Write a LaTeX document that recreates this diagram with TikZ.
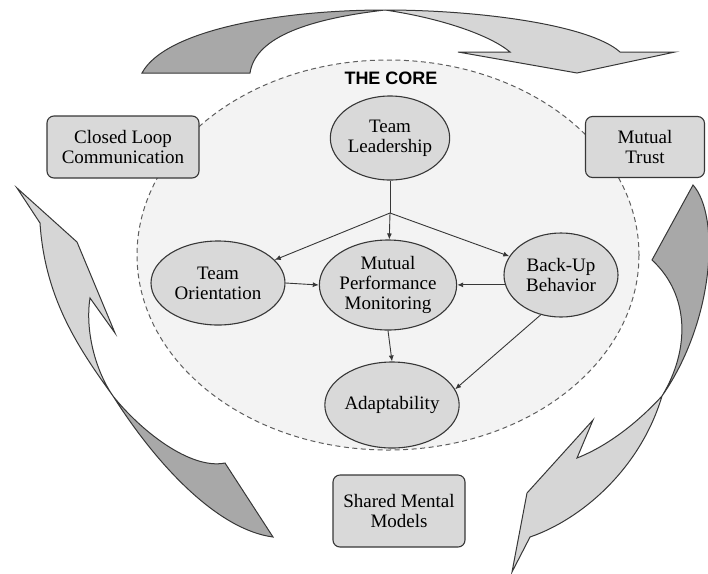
\documentclass[tikz,border=0pt]{standalone}
\usepackage{fontspec}
\setmainfont{Liberation Serif}
\newfontfamily\labelfont{Liberation Serif}
\newfontfamily\headfont{Liberation Sans}
\usetikzlibrary{shapes.geometric,arrows.meta,positioning}
\definecolor{CoreFill}{RGB}{243,243,243}
\definecolor{NodeFill}{RGB}{217,217,217}
\definecolor{RibbonDark}{RGB}{168,168,168}
\definecolor{RibbonLight}{RGB}{214,214,214}
\definecolor{EdgeGray}{RGB}{55,55,55}

\begin{document}
\begin{tikzpicture}[x=1pt,y=-1pt,
    bubble/.style={ellipse,draw=EdgeGray,fill=NodeFill,line width=1.1pt,inner sep=0pt,
      align=center,font=\labelfont\fontsize{19}{20}\selectfont},
    skillbox/.style={rectangle,rounded corners=7pt,draw=EdgeGray,fill=NodeFill,line width=1.1pt,
      inner sep=0pt,align=center,font=\labelfont\fontsize{19}{20}\selectfont},
    link/.style={-{Latex[length=6pt,width=5pt]},line width=0.9pt,draw=EdgeGray},
    ribbon/.style={draw=EdgeGray,line width=1pt,line join=miter}]
    \useasboundingbox (0,0) rectangle (708,573);

    % The core
    \draw[dashed,dash pattern=on 5pt off 3.5pt,draw=EdgeGray!80,fill=CoreFill,line width=1pt]
      (388,255) ellipse [x radius=251,y radius=195];
    \node[font=\headfont\bfseries\fontsize{18}{18}\selectfont] (core) at (391,78) {THE CORE};

    % Big arrows round the core
    \fill[RibbonDark,ribbon] (142,73) .. controls (165,30) and (280,10) .. (385,10)
      .. controls (300,20) and (255,40) .. (250,73) -- cycle;
    \fill[RibbonLight,ribbon] (385,10) .. controls (480,10) and (590,25) .. (620,52)
      -- (675,52) -- (577,73) -- (458,52) -- (510,52)
      .. controls (490,35) and (440,18) .. (385,10);

    \fill[RibbonDark,ribbon] (693,185) .. controls (720,215) and (715,320) .. (662,396)
      .. controls (690,350) and (690,295) .. (652,260) -- cycle;
    \fill[RibbonLight,ribbon] (662,396) .. controls (640,420) and (610,445) .. (577,458)
      -- (593,420) -- (527,493) -- (512,572) -- (530,537)
      .. controls (580,520) and (640,470) .. (662,396);

    \fill[RibbonDark,ribbon] (113,396) .. controls (160,470) and (220,530) .. (273,537)
      -- (225,463) .. controls (190,470) and (140,430) .. (113,396);
    \fill[RibbonLight,ribbon] (17,188) -- (77,242) -- (115,333) -- (90,298)
      .. controls (85,330) and (95,370) .. (113,396)
      .. controls (80,350) and (45,300) .. (40,223) -- cycle;

    % Outer boxes
    \node[skillbox,minimum width=152pt,minimum height=62pt] (clc) at (123,147) {Closed Loop\\Communication};
    \node[skillbox,minimum width=119pt,minimum height=61pt] (trust) at (645,147) {Mutual\\Trust};
    \node[skillbox,minimum width=132pt,minimum height=72pt] (smm) at (399,511) {Shared Mental\\Models};

    % Core components
    \node[bubble,minimum width=114pt,minimum height=84pt] (lead) at (390,138) {Team\\Leadership};
    \node[bubble,minimum width=134pt,minimum height=84pt] (orient) at (218,283) {Team\\Orientation};
    \node[bubble,minimum width=128pt,minimum height=90pt] (monitor) at (388,285) {Mutual\\Performance\\Monitoring};
    \node[bubble,minimum width=114pt,minimum height=84pt] (backup) at (561,275) {Back-Up\\Behavior};
    \node[bubble,minimum width=116pt,minimum height=86pt] (adapt) at (392,405) {Adaptability};

    \coordinate (split) at (390,213);
    \draw[line width=0.9pt,draw=EdgeGray] (lead.south) -- (split);
    \draw[link] (split) -- (orient);
    \draw[link] (split) -- (monitor);
    \draw[link] (split) -- (backup);
    \draw[link] (orient.east) -- (monitor.west);
    \draw[link] (backup.190) -- (backup.190 -| monitor.east);
    \draw[link] (monitor.south) -- (adapt.north);
    \draw[link] (backup.243) -- (adapt.14);
  \end{tikzpicture}
\end{document}
